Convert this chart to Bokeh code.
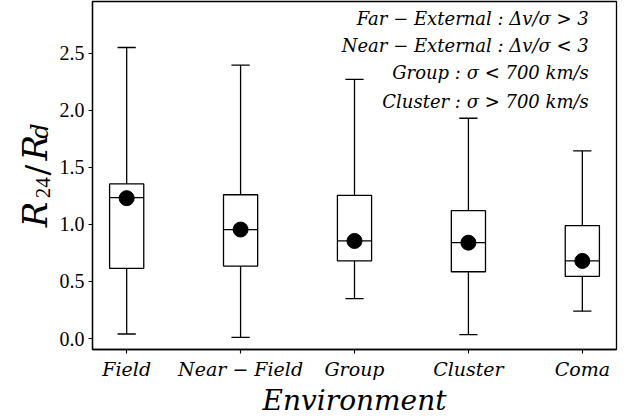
import numpy as np
from math import pi
from bokeh.plotting import figure
from bokeh.layouts import row
from bokeh.models import Range1d, FixedTicker, Label, PrintfTickFormatter
from bokeh.embed import file_html
from bokeh.resources import INLINE

# ---------------- data ----------------
categories = ["Field", "Near − Field", "Group", "Cluster", "Coma"]
whisker_low = [0.04, 0.01, 0.35, 0.035, 0.24]
q1 = [0.615, 0.635, 0.68, 0.585, 0.545]
medians = [1.235, 0.955, 0.855, 0.84, 0.68]
q3 = [1.355, 1.26, 1.255, 1.12, 0.99]
whisker_high = [2.55, 2.395, 2.27, 1.93, 1.645]
dots = [1.23, 0.955, 0.855, 0.84, 0.68]
y_ticks = [0.0, 0.5, 1.0, 1.5, 2.0, 2.5]
notes = [
    "Far − External :  Δv/σ > 3",
    "Near − External :  Δv/σ < 3",
    "Group :  σ < 700 km/s",
    "Cluster :  σ > 700 km/s",
]

# ---------------- layout (page pixels) ----------------
W, H = 639, 419
LAB_W = 56                     # strip holding the rotated y title
FL, FR, FT, FB = 91, 616, 1, 351   # frame edges on the page
X0, X1 = 0.7, 5.3
Y0, Y1 = -0.096, 2.953
MW = W - LAB_W


def px_x(sx):
    return X0 + (sx - FL) * (X1 - X0) / (FR - FL)


def px_y(sy):
    return Y0 + (FB - sy) * (Y1 - Y0) / (FB - FT)


SERIF = "DejaVu Serif"
NUM = "Liberation Serif"
DESC = {SERIF: 0.236, NUM: 0.216}

yr = Range1d(Y0, Y1)
p = figure(width=MW, height=H, x_range=Range1d(X0, X1), y_range=yr,
           output_backend="svg", toolbar_location=None,
           min_border_left=FL - LAB_W, min_border_right=W - FR,
           min_border_top=FT, min_border_bottom=H - FB)
p.background_fill_color = "white"
p.border_fill_color = "white"
p.outline_line_color = "black"
p.outline_line_width = 1.3
p.grid.visible = False

xs = np.arange(1, len(categories) + 1)
box_w = 0.3
cap_w = 0.16
LW = 1.3

# whiskers
p.segment(x0=xs, y0=q3, x1=xs, y1=whisker_high, line_color="black", line_width=LW)
p.segment(x0=xs, y0=q1, x1=xs, y1=whisker_low, line_color="black", line_width=LW)
# caps
p.segment(x0=xs - cap_w / 2, y0=whisker_high, x1=xs + cap_w / 2, y1=whisker_high,
          line_color="black", line_width=LW)
p.segment(x0=xs - cap_w / 2, y0=whisker_low, x1=xs + cap_w / 2, y1=whisker_low,
          line_color="black", line_width=LW)
# boxes
p.vbar(x=xs, width=box_w, bottom=q1, top=q3, fill_color="white",
       line_color="black", line_width=LW)
# medians
p.segment(x0=xs - box_w / 2, y0=medians, x1=xs + box_w / 2, y1=medians,
          line_color="black", line_width=LW)
# dots
p.scatter(x=xs, y=dots, size=15, color="black")

# ---------------- axes ----------------
for ax in (p.xaxis[0], p.yaxis[0]):
    ax.axis_line_color = "black"
    ax.axis_line_width = 1.3
    ax.major_tick_line_color = "black"
    ax.major_tick_line_width = 1.1
    ax.major_tick_out = 4
    ax.major_tick_in = 0
    ax.minor_tick_line_color = None
    ax.major_label_text_color = "black"
    ax.major_label_standoff = 4

p.xaxis.ticker = FixedTicker(ticks=list(xs))
p.xaxis.major_label_overrides = {int(i): c for i, c in zip(xs, categories)}
p.xaxis.major_label_text_font = SERIF
p.xaxis.major_label_text_font_style = "italic"
p.xaxis.major_label_text_font_size = "19px"
p.xaxis.axis_label = "Environment"
p.xaxis.axis_label_text_font = SERIF
p.xaxis.axis_label_text_font_style = "italic"
p.xaxis.axis_label_text_font_size = "28px"
p.xaxis.axis_label_text_color = "black"
p.xaxis.axis_label_standoff = 1

p.yaxis.ticker = FixedTicker(ticks=y_ticks)
p.yaxis.formatter = PrintfTickFormatter(format="%.1f")
p.yaxis.major_label_text_font = NUM
p.yaxis.major_label_text_font_size = "20px"

# ---------------- notes (top right) ----------------
NOTE_SIZE = 18
note_baselines = [22.5, 49.0, 77.0, 105.5]
for t, sy in zip(notes, note_baselines):
    p.add_layout(Label(x=px_x(594), y=px_y(sy - DESC[SERIF] * NOTE_SIZE), text=t,
                       text_align="right", text_baseline="alphabetic",
                       text_font=SERIF, text_font_style="italic",
                       text_font_size=f"{NOTE_SIZE}px", text_color="black"))

# ---------------- y title strip: R24/Rd (rotated pieces) ----------------
# shares the value range; the row aligns its frame with the main frame
q = figure(width=LAB_W, height=H, x_range=Range1d(0, LAB_W), y_range=yr,
           output_backend="svg", toolbar_location=None,
           x_axis_location=None, y_axis_location=None, min_border=0)
q.outline_line_color = None
q.grid.visible = False
q.background_fill_color = "white"
q.border_fill_color = "white"

# (text, baseline x, start y, font, style, size) in page pixels
ypieces = [
    ("R", 43, 228, SERIF, "italic", 34),
    ("24", 47, 199, NUM, "normal", 21),
    ("/", 44, 176, SERIF, "normal", 32),
    ("R", 43, 161, SERIF, "italic", 34),
    ("d", 45, 139, SERIF, "italic", 24),
]
for t, sx, sy, f, st, sz in ypieces:
    q.add_layout(Label(x=sx - DESC[f] * sz, y=px_y(sy), text=t, angle=pi / 2,
                       text_align="left", text_baseline="alphabetic",
                       text_font=f, text_font_style=st, text_font_size=f"{sz}px",
                       text_color="black"))

layout = row(q, p, spacing=0)
open("out.html", "w").write(file_html(layout, INLINE))
